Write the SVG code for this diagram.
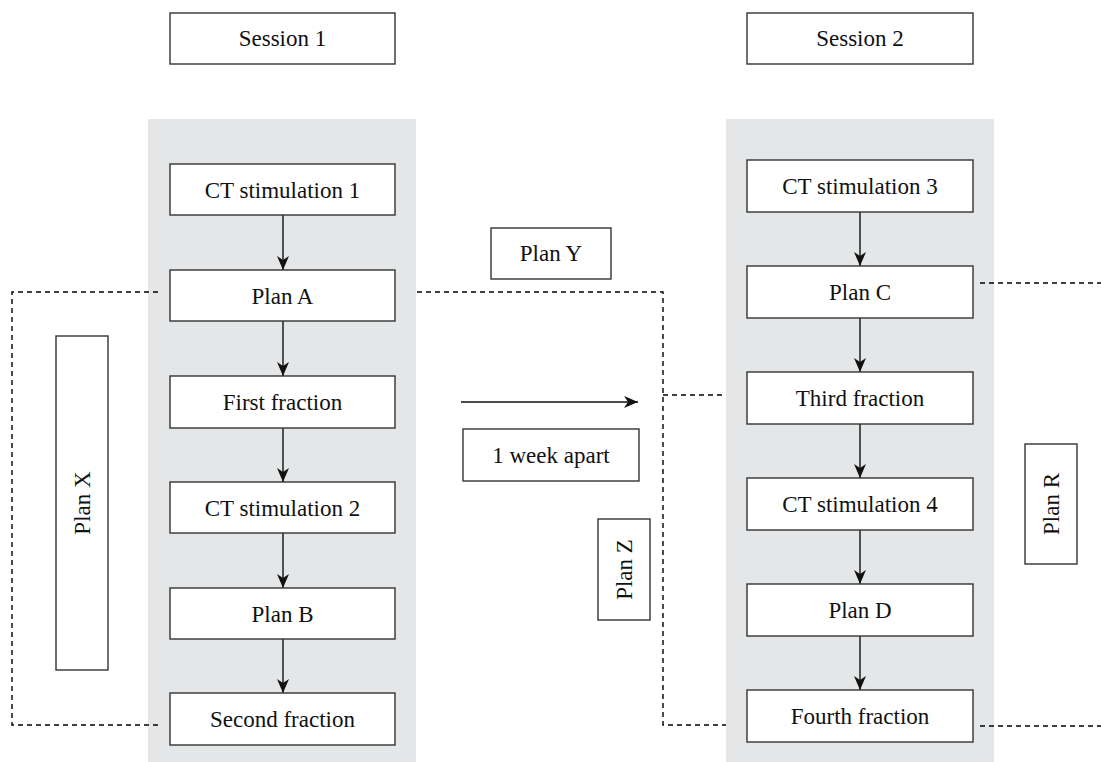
<svg xmlns="http://www.w3.org/2000/svg" width="1101" height="762" viewBox="0 0 1101 762">
<defs>
<style>
.panel{fill:#e5e6e8;stroke:none}
.box{fill:#fff;stroke:#333;stroke-width:1.4}
.t{font-family:'Liberation Serif','DejaVu Serif','Times New Roman',serif;font-size:23px;fill:#111;text-anchor:middle}
.arr{stroke:#111;stroke-width:1.4;fill:none;marker-end:url(#ah)}
.dash{stroke:#000;stroke-width:1.4;fill:none;stroke-dasharray:5 4}
</style>
<marker id="ah" viewBox="0 0 14 12" refX="14" refY="6" markerWidth="14" markerHeight="12" markerUnits="userSpaceOnUse" orient="auto">
<path d="M0,0 L14,6 L0,12 L4,6 z" fill="#111"/>
</marker>
</defs>
<rect class="panel" x="148" y="119" width="268" height="643"/>
<rect class="panel" x="726" y="119" width="268" height="643"/>
<g id="connectors">
<line class="arr" x1="283" y1="215" x2="283" y2="270"/>
<line class="arr" x1="283" y1="321" x2="283" y2="376"/>
<line class="arr" x1="283" y1="428" x2="283" y2="482"/>
<line class="arr" x1="283" y1="533" x2="283" y2="588"/>
<line class="arr" x1="283" y1="639" x2="283" y2="693"/>
<line class="arr" x1="860" y1="212" x2="860" y2="266"/>
<line class="arr" x1="860" y1="318" x2="860" y2="372"/>
<line class="arr" x1="860" y1="424" x2="860" y2="478"/>
<line class="arr" x1="860" y1="530" x2="860" y2="584"/>
<line class="arr" x1="860" y1="636" x2="860" y2="690"/>
<line class="arr" x1="461" y1="402" x2="638" y2="402"/>
<polyline class="dash" points="158,292 12,292 12,725 158,725"/>
<polyline class="dash" points="417,292 663,292 663,725 726,725"/>
<line class="dash" x1="663" y1="395" x2="726" y2="395"/>
<line class="dash" x1="980" y1="283" x2="1101" y2="283"/>
<line class="dash" x1="980" y1="726" x2="1101" y2="726"/>
</g>
<g id="session1"><rect class="box" x="170" y="13" width="225" height="51"/><text class="t" x="282.5" y="46">Session 1</text></g>
<g id="session2"><rect class="box" x="747" y="13" width="226" height="51"/><text class="t" x="860" y="46">Session 2</text></g>
<g id="ct1"><rect class="box" x="170" y="164" width="225" height="51"/><text class="t" x="282.5" y="198">CT stimulation 1</text></g>
<g id="planA"><rect class="box" x="170" y="270" width="225" height="51"/><text class="t" x="282.5" y="304">Plan A</text></g>
<g id="first"><rect class="box" x="170" y="376" width="225" height="52"/><text class="t" x="282.5" y="410">First fraction</text></g>
<g id="ct2"><rect class="box" x="170" y="482" width="225" height="51"/><text class="t" x="282.5" y="516">CT stimulation 2</text></g>
<g id="planB"><rect class="box" x="170" y="588" width="225" height="51"/><text class="t" x="282.5" y="622">Plan B</text></g>
<g id="second"><rect class="box" x="170" y="693" width="225" height="52"/><text class="t" x="282.5" y="727">Second fraction</text></g>
<g id="ct3"><rect class="box" x="747" y="160" width="226" height="52"/><text class="t" x="860" y="194">CT stimulation 3</text></g>
<g id="planC"><rect class="box" x="747" y="266" width="226" height="52"/><text class="t" x="860" y="300">Plan C</text></g>
<g id="third"><rect class="box" x="747" y="372" width="226" height="52"/><text class="t" x="860" y="406">Third fraction</text></g>
<g id="ct4"><rect class="box" x="747" y="478" width="226" height="52"/><text class="t" x="860" y="512">CT stimulation 4</text></g>
<g id="planD"><rect class="box" x="747" y="584" width="226" height="52"/><text class="t" x="860" y="618">Plan D</text></g>
<g id="fourth"><rect class="box" x="747" y="690" width="226" height="52"/><text class="t" x="860" y="724">Fourth fraction</text></g>
<g id="planY"><rect class="box" x="491" y="228" width="120" height="51"/><text class="t" x="551" y="261">Plan Y</text></g>
<g id="week"><rect class="box" x="463" y="429" width="176" height="52"/><text class="t" x="551" y="463">1 week apart</text></g>
<g id="planX"><rect class="box" x="56" y="336" width="52" height="334"/><text class="t" transform="translate(90,503) rotate(-90)" x="0" y="0">Plan X</text></g>
<g id="planZ"><rect class="box" x="598" y="519" width="52" height="101"/><text class="t" transform="translate(632,569.5) rotate(-90)" x="0" y="0">Plan Z</text></g>
<g id="planR"><rect class="box" x="1025" y="444" width="52" height="120"/><text class="t" transform="translate(1059,504) rotate(-90)" x="0" y="0">Plan R</text></g>
</svg>
